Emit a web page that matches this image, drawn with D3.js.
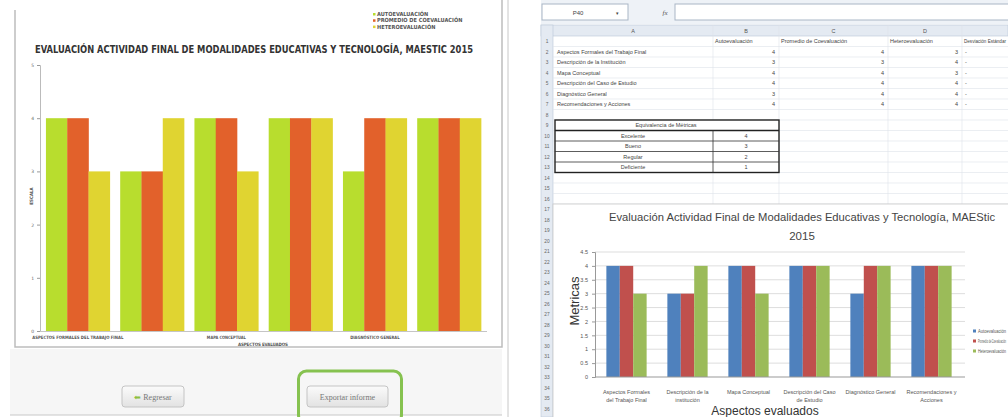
<!DOCTYPE html>
<html><head><meta charset="utf-8">
<script src="https://cdn.jsdelivr.net/npm/d3@7"></script>
<style>body{margin:0;background:#fff}svg{display:block}</style>
</head><body>
<script>
// ---------- DATA ----------
const categories = ["Aspectos Formales del Trabajo Final","Descripción de la Institución","Mapa Conceptual","Descripción del Caso de Estudio","Diagnóstico General","Recomendaciones y Acciones"];
const seriesNames = ["Autoevaluación","Promedio de Coevaluación","Heteroevaluación"];
const autoevaluacion = [4,3,4,4,3,4];
const coevaluacion = [4,3,4,4,4,4];
const heteroevaluacion = [3,4,3,4,4,4];
const leftTicks = [0,1,2,3,4,5];
const rightTicks = [0,0.5,1,1.5,2,2.5,3,3.5,4,4.5];
const leftTitle = "EVALUACIÓN ACTIVIDAD FINAL DE MODALIDADES EDUCATIVAS Y TECNOLOGÍA, MAESTIC 2015";
const leftLegend = ["AUTOEVALUACIÓN","PROMEDIO DE COEVALUACIÓN","HETEROEVALUACIÓN"];
const leftXLabels = ["ASPECTOS FORMALES DEL TRABAJO FINAL","","MAPA CONCEPTUAL","","DIAGNÓSTICO GENERAL",""];
const rightCatLabels = [["Aspectos Formales","del Trabajo Final"],["Descripción de la","institución"],["Mapa Conceptual"],["Descripción del Caso","de Estudio"],["Diagnóstico General"],["Recomendaciones y","Acciones"]];
const equivalencias = ["Excelente","Bueno","Regular","Deficiente"];
const equivValores = [4,3,2,1];
const rightTitle = ["Evaluación Actividad Final de Modalidades Educativas y Tecnología, MAEStic","2015"];
const columnLetters = ["A","B","C","D"];

const values = [autoevaluacion, coevaluacion, heteroevaluacion];
const leftColors = ["#b8dd2e","#e2612b","#e0d431"];
const rightColors = ["#4f81bd","#c0504d","#9bbb59"];

const svg = d3.select("body").append("svg").attr("width",1008).attr("height",417);

// ---------- LEFT PANEL ----------
const L = svg.append("g");
L.append("rect").attr("x",10).attr("y",349).attr("width",492).attr("height",66).attr("fill","#f6f6f6");
L.append("line").attr("x1",10).attr("x2",502).attr("y1",415).attr("y2",415).attr("stroke","#c8c8c8");
L.append("path").attr("d","M15,10V347H502V0").attr("fill","none").attr("stroke","#bdbdbd").attr("stroke-width",1.5);

// legend
leftLegend.forEach((t,i)=>{
  L.append("rect").attr("x",373).attr("y",13+i*6.3).attr("width",2.5).attr("height",2.5).attr("fill",leftColors[i]);
  L.append("text").attr("x",377).attr("y",16+i*6.3).attr("font-family","DejaVu Sans Condensed, DejaVu Sans").attr("font-weight","bold")
   .attr("font-size",5.6).attr("fill","#555").text(t);
});
// title
L.append("text").attr("x",35).attr("y",53).attr("font-family","DejaVu Sans Condensed, DejaVu Sans").attr("font-weight","bold")
  .attr("font-size",10).attr("fill","#333").attr("textLength",438).attr("lengthAdjust","spacingAndGlyphs").text(leftTitle);

const lx0 = d3.scaleBand().domain(categories).range([40,487]).paddingInner(0.14).paddingOuter(0.08);
const lx1 = d3.scaleBand().domain(seriesNames).range([0,lx0.bandwidth()]);
const ly = d3.scaleLinear().domain([0,5]).range([331,65]);

const lg = L.append("g");
categories.forEach((c,ci)=>{
  seriesNames.forEach((s,si)=>{
    lg.append("rect").attr("x",lx0(c)+lx1(s)).attr("width",lx1.bandwidth()+0.3)
      .attr("y",ly(values[si][ci])).attr("height",ly(0)-ly(values[si][ci])).attr("fill",leftColors[si]);
  });
});
const lyAxis = L.append("g").attr("transform","translate(40,0)")
  .call(d3.axisLeft(ly).tickValues(leftTicks).tickSize(3).tickFormat(d3.format("d")));
lyAxis.select(".domain").attr("stroke","#bbb");
lyAxis.selectAll(".tick line").attr("stroke","#999");
lyAxis.selectAll("text").attr("font-size",4.5).attr("fill","#666").attr("font-family","DejaVu Sans");
L.append("line").attr("x1",40).attr("x2",487).attr("y1",331.5).attr("y2",331.5).attr("stroke","#c5c5c5");
categories.forEach((c,ci)=>{
  if(!leftXLabels[ci]) return;
  const w = leftXLabels[ci].length*2.6;
  L.append("text").attr("x",lx0(c)+lx0.bandwidth()/2).attr("y",338.5).attr("text-anchor","middle")
   .attr("font-family","DejaVu Sans Condensed, DejaVu Sans").attr("font-weight","bold").attr("font-size",4.5).attr("fill","#555")
   .attr("textLength",w).attr("lengthAdjust","spacingAndGlyphs").text(leftXLabels[ci]);
});
L.append("text").attr("x",263).attr("y",345.5).attr("text-anchor","middle").attr("font-family","DejaVu Sans Condensed, DejaVu Sans")
  .attr("font-weight","bold").attr("font-size",4.5).attr("fill","#555").attr("textLength",50).text("ASPECTOS EVALUADOS");
L.append("text").attr("transform","translate(33,196) rotate(-90)").attr("text-anchor","middle").attr("font-family","DejaVu Sans Condensed, DejaVu Sans")
  .attr("font-weight","bold").attr("font-size",4.5).attr("fill","#555").text("ESCALA");

// buttons
const grad = svg.append("defs").append("linearGradient").attr("id","btn").attr("x1",0).attr("x2",0).attr("y1",0).attr("y2",1);
grad.append("stop").attr("offset","0").attr("stop-color","#fbfbfb");
grad.append("stop").attr("offset","1").attr("stop-color","#e2e2e2");
function button(x,w,label,arrow){
  L.append("rect").attr("x",x).attr("y",386).attr("width",w).attr("height",21).attr("rx",3)
   .attr("fill","url(#btn)").attr("stroke","#c4c4c4");
  const t = L.append("text").attr("x",x+w/2).attr("y",399.5).attr("text-anchor","middle")
   .attr("font-family","Liberation Serif, serif").attr("font-size",8).attr("fill","#777");
  if(arrow){ t.append("tspan").attr("fill","#8cbf3f").text("⬅ "); }
  t.append("tspan").text(label);
}
button(122,62,"Regresar",true);
button(307,81,"Exportar informe",false);
L.append("rect").attr("x",298.5).attr("y",371).attr("width",103).attr("height",52).attr("rx",8)
  .attr("fill","none").attr("stroke","#86c250").attr("stroke-width",3);

// ---------- RIGHT PANEL (spreadsheet) ----------
const R = svg.append("g");
R.append("line").attr("x1",508).attr("x2",508).attr("y1",0).attr("y2",417).attr("stroke","#c8c8c8");
const colX = [553,713,779,888,962,1008];
const rowTop = n => 36 + (n-1)*10.5;
const cellFont = "Liberation Sans, Arial";
// formula bar
R.append("rect").attr("x",541).attr("y",0).attr("width",467).attr("height",24).attr("fill","#eef2f7");
R.append("rect").attr("x",542).attr("y",4).attr("width",86).attr("height",16).attr("fill","#fff").attr("stroke","#a9b6c6");
R.append("text").attr("x",578).attr("y",14.5).attr("text-anchor","middle").attr("font-family",cellFont).attr("font-size",6).attr("fill","#444").text("P40");
R.append("text").attr("x",617).attr("y",14.5).attr("text-anchor","middle").attr("font-family",cellFont).attr("font-size",5).attr("fill","#444").text("▾");
R.append("text").attr("x",665).attr("y",14.5).attr("text-anchor","middle").attr("font-family","Liberation Serif").attr("font-style","italic").attr("font-size",7).attr("fill","#555").text("fx");
R.append("rect").attr("x",675).attr("y",4).attr("width",340).attr("height",16).attr("fill","#fff").attr("stroke","#a9b6c6");
// column header row
R.append("rect").attr("x",541).attr("y",25).attr("width",467).attr("height",11).attr("fill","#e4eaf2").attr("stroke","#b9c6d6").attr("stroke-width",0.6);
columnLetters.forEach((c,i)=>{
  R.append("text").attr("x",(colX[i]+colX[i+1])/2).attr("y",33).attr("text-anchor","middle").attr("font-family",cellFont).attr("font-size",5.5).attr("fill","#555").text(c);
});
// row number column
R.append("rect").attr("x",541).attr("y",25).attr("width",12).attr("height",392).attr("fill","#e4eaf2").attr("stroke","#b9c6d6").attr("stroke-width",0.6);
d3.range(1,37).forEach(n=>{
  R.append("text").attr("x",547).attr("y",rowTop(n)+7.3).attr("text-anchor","middle").attr("font-family",cellFont).attr("font-size",4.8).attr("fill","#666").text(n);
});
// grid
d3.range(1,17).forEach(n=>{
  R.append("line").attr("x1",553).attr("x2",1008).attr("y1",rowTop(n)+10.5).attr("y2",rowTop(n)+10.5).attr("stroke","#dde3ea").attr("stroke-width",0.6);
});
colX.slice(1,5).forEach(x=>{
  R.append("line").attr("x1",x).attr("x2",x).attr("y1",25).attr("y2",rowTop(17)).attr("stroke","#dde3ea").attr("stroke-width",0.6);
});
// header row text
seriesNames.forEach((s,i)=>{
  R.append("text").attr("x",colX[i+1]+2).attr("y",rowTop(1)+7.3).attr("font-family",cellFont).attr("font-size",5.5).attr("fill","#444").text(s);
});
R.append("text").attr("x",colX[4]+2).attr("y",rowTop(1)+7.3).attr("font-family",cellFont).attr("font-size",5.5).attr("fill","#444")
  .attr("textLength",42).attr("lengthAdjust","spacingAndGlyphs").text("Desviación Estándar");
categories.forEach((c,ci)=>{
  const y = rowTop(ci+2)+7.3;
  R.append("text").attr("x",557).attr("y",y).attr("font-family",cellFont).attr("font-size",5.5).attr("fill","#444").text(c);
  values.forEach((v,si)=>{
    R.append("text").attr("x",colX[si+2]-4).attr("y",y).attr("text-anchor","end").attr("font-family",cellFont).attr("font-size",5.5).attr("fill","#444").text(v[ci]);
  });
  R.append("text").attr("x",965).attr("y",y).attr("font-family",cellFont).attr("font-size",5.5).attr("fill","#444").text("-");
});
// equivalence table
const tb = R.append("g");
tb.append("rect").attr("x",colX[0]+2).attr("y",rowTop(9)).attr("width",colX[2]-colX[0]-2).attr("height",10.5*5).attr("fill","#fff").attr("stroke","#222").attr("stroke-width",1.4);
tb.append("line").attr("x1",colX[0]+2).attr("x2",colX[2]).attr("y1",rowTop(10)).attr("y2",rowTop(10)).attr("stroke","#222").attr("stroke-width",1.4);
tb.append("line").attr("x1",colX[1]).attr("x2",colX[1]).attr("y1",rowTop(10)).attr("y2",rowTop(14)).attr("stroke","#333").attr("stroke-width",0.8);
tb.append("text").attr("x",(colX[0]+colX[2])/2).attr("y",rowTop(9)+7.3).attr("text-anchor","middle").attr("font-family",cellFont).attr("font-size",5.5).attr("fill","#444").text("Equivalencia de Métricas");
equivalencias.forEach((e,i)=>{
  const t = rowTop(10+i);
  if(i>0) tb.append("line").attr("x1",colX[0]+2).attr("x2",colX[2]).attr("y1",t).attr("y2",t).attr("stroke","#333").attr("stroke-width",0.8);
  tb.append("text").attr("x",(colX[0]+colX[1])/2).attr("y",t+7.3).attr("text-anchor","middle").attr("font-family",cellFont).attr("font-size",5.5).attr("fill","#444").text(e);
  tb.append("text").attr("x",(colX[1]+colX[2])/2).attr("y",t+7.3).attr("text-anchor","middle").attr("font-family",cellFont).attr("font-size",5.5).attr("fill","#444").text(equivValores[i]);
});
// chart area
R.append("rect").attr("x",553).attr("y",rowTop(17)).attr("width",460).attr("height",220).attr("fill","#fff").attr("stroke","#c9c9c9").attr("stroke-width",0.8);

const rx0 = d3.scaleBand().domain(categories).range([596,962]).paddingInner(0.34).paddingOuter(0.17);
const rx1 = d3.scaleBand().domain(seriesNames).range([0,rx0.bandwidth()]);
const ry = d3.scaleLinear().domain([0,4.5]).range([377,252]);

// gridlines
R.append("g").selectAll("line").data(rightTicks.slice(1)).join("line")
  .attr("x1",595).attr("x2",965).attr("y1",d=>ry(d)).attr("y2",d=>ry(d)).attr("stroke","#d4d4d4").attr("stroke-width",0.8);
categories.forEach((c,ci)=>{
  seriesNames.forEach((s,si)=>{
    R.append("rect").attr("x",rx0(c)+rx1(s)).attr("width",rx1.bandwidth())
      .attr("y",ry(values[si][ci])).attr("height",ry(0)-ry(values[si][ci])).attr("fill",rightColors[si]);
  });
});
const ryAxis = R.append("g").attr("transform","translate(595,0)")
  .call(d3.axisLeft(ry).tickValues(rightTicks).tickSize(3).tickPadding(4).tickFormat(d=>String(d)));
ryAxis.select(".domain").attr("stroke","#999");
ryAxis.selectAll(".tick line").attr("stroke","#999");
ryAxis.selectAll("text").attr("font-size",5.5).attr("fill","#555").attr("font-family",cellFont);
const rxAxis = R.append("g").attr("transform","translate(0,377)")
  .call(d3.axisBottom(rx0).tickSize(0).tickFormat(""));
rxAxis.select(".domain").attr("stroke","#999").attr("d","M595,0H965");
categories.forEach((c,ci)=>{
  const cx = rx0(c)+rx0.bandwidth()/2;
  rightCatLabels[ci].forEach((ln,li)=>{
    R.append("text").attr("x",cx).attr("y",394+li*8).attr("text-anchor","middle").attr("font-family",cellFont).attr("font-size",5.5).attr("fill","#555").text(ln);
  });
});
R.append("text").attr("x",802).attr("y",221).attr("text-anchor","middle").attr("font-family","Liberation Sans, Arial").attr("font-size",11.5)
  .attr("fill","#444").attr("textLength",386).attr("lengthAdjust","spacingAndGlyphs").text(rightTitle[0]);
R.append("text").attr("x",802).attr("y",240).attr("text-anchor","middle").attr("font-family","Liberation Sans, Arial").attr("font-size",11.5)
  .attr("fill","#444").text(rightTitle[1]);
R.append("text").attr("x",765).attr("y",415).attr("text-anchor","middle").attr("font-family","Liberation Sans, Arial").attr("font-size",12)
  .attr("fill","#333").text("Aspectos evaluados");
R.append("text").attr("transform","translate(579,301) rotate(-90)").attr("text-anchor","middle").attr("font-family","Liberation Sans, Arial")
  .attr("font-size",13).attr("fill","#333").text("Metricas");
seriesNames.forEach((s,i)=>{
  R.append("rect").attr("x",973).attr("y",329.5+i*10).attr("width",3).attr("height",3).attr("fill",rightColors[i]);
  R.append("text").attr("x",978).attr("y",332.5+i*10).attr("font-family",cellFont).attr("font-size",5).attr("fill","#555")
    .attr("textLength",28).attr("lengthAdjust","spacingAndGlyphs").text(s);
});
</script>
</body></html>
